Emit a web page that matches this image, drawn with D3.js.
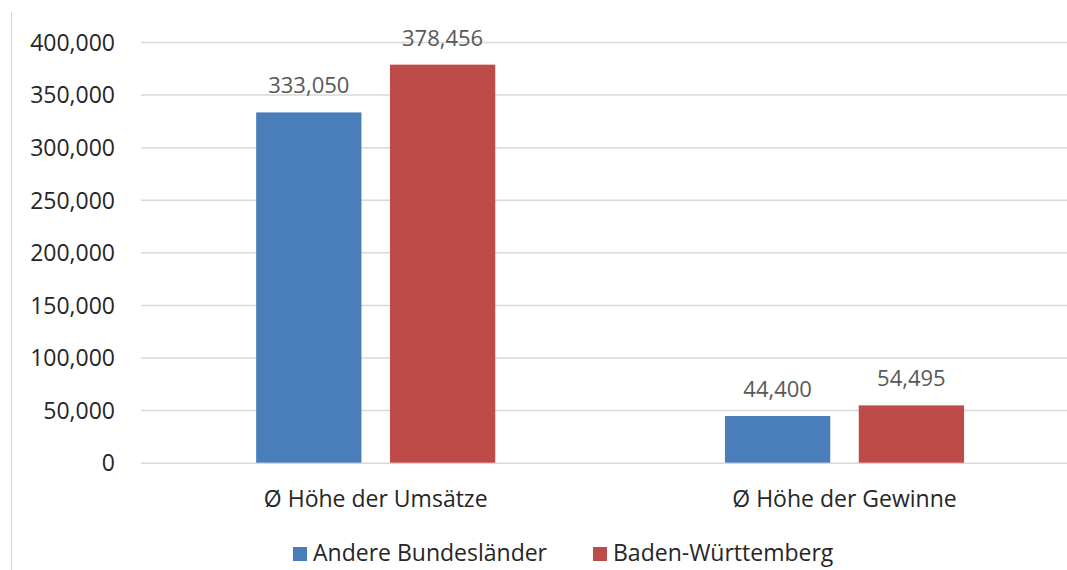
<!DOCTYPE html>
<html><head><meta charset="utf-8">
<script src="https://cdn.jsdelivr.net/npm/d3@7"></script>
<style>body{margin:0;background:#fff}svg{display:block}text{font-family:"Open Sans",sans-serif}</style>
</head><body><svg id="c" width="1067" height="570"></svg>
<script>
const categories = ["Ø Höhe der Umsätze", "Ø Höhe der Gewinne"];
const seriesNames = ["Andere Bundesländer", "Baden-Württemberg"];
const andere = [333050, 44400];
const baden = [378456, 54495];
const yTicks = [0, 50000, 100000, 150000, 200000, 250000, 300000, 350000, 400000];
const colors = ["#4a7ebb", "#be4b48"];

const values = [andere, baden];
const svg = d3.select("#c");
const fmt = d3.format(",");

// left frame line
svg.append("line").attr("x1",11.5).attr("x2",11.5).attr("y1",12).attr("y2",570)
  .attr("stroke","#d4d4d4").attr("stroke-width",1);

const y = d3.scaleLinear().domain([0,400000]).range([462.7, 42]);
const x0 = d3.scaleBand().domain(categories).range([141.3, 1078.9]).paddingInner(0.49).paddingOuter(0.245);
const x1 = d3.scaleBand().domain(seriesNames).range([0, x0.bandwidth()]).paddingInner(0.213).paddingOuter(0);

// gridlines
const yAxis = d3.axisLeft(y).tickValues(yTicks).tickFormat(fmt).tickSize(-(1067-141)).tickPadding(26);
const gA = svg.append("g").attr("transform","translate(141,0)").call(yAxis);
gA.select(".domain").remove();
gA.selectAll(".tick line").attr("stroke","#d9d9d9").attr("stroke-width",1.5);
gA.selectAll(".tick text").attr("font-size",23).attr("fill","#262626").attr("dy","0.36em");

// bars
const groups = svg.append("g").selectAll("g").data(categories).join("g")
  .attr("transform", d => `translate(${x0(d)},0)`);
groups.each(function(cat, ci){
  const g = d3.select(this);
  seriesNames.forEach((s, si) => {
    const v = values[si][ci];
    g.append("rect").attr("x", x1(s)).attr("width", x1.bandwidth())
      .attr("y", y(v)).attr("height", y(0)-y(v)).attr("fill", colors[si]);
    g.append("text").attr("x", x1(s)+x1.bandwidth()/2).attr("y", y(v)-19)
      .attr("text-anchor","middle").attr("font-size",22).attr("fill","#595959").text(fmt(v));
  });
});

// category axis labels
const xAxis = d3.axisBottom(x0).tickSize(0).tickPadding(0);
const gX = svg.append("g").attr("transform","translate(0,506.5)").call(xAxis);
gX.select(".domain").remove();
gX.selectAll(".tick text").attr("font-size",23).attr("fill","#262626").attr("dy",0);

// legend
const legX = [293, 593];
const leg = svg.append("g").selectAll("g").data(seriesNames).join("g")
  .attr("transform",(d,i)=>`translate(${legX[i]},547)`);
leg.append("rect").attr("width",14).attr("height",14).attr("fill",(d,i)=>colors[i]);
leg.append("text").attr("x",20).attr("y",14).attr("font-size",23)
  .attr("fill","#262626").text(d=>d);
</script></body></html>
